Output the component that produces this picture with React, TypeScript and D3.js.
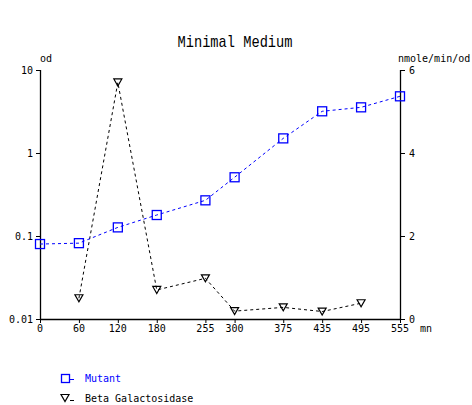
import React from "react";
import * as d3 from "d3";

const times = [0, 60, 120, 180, 255, 300, 375, 435, 495, 555];
const mutant = [0.08, 0.082, 0.127, 0.179, 0.269, 0.51, 1.5, 3.18, 3.55, 4.82];
const betaTimes = [60, 120, 180, 255, 300, 375, 435, 495];
const beta = [0.5, 5.7, 0.7, 0.98, 0.19, 0.28, 0.18, 0.38];
const xTicks = [0, 60, 120, 180, 255, 300, 375, 435, 495, 555];
const leftTicks = [0.01, 0.1, 1, 10];
const leftTickLabels = ["0.01", "0.1", "1", "10"];
const rightTicks = [0, 2, 4, 6];

const FONT = "'DejaVu Sans Mono', monospace";

export default function App() {
  const x = d3.scaleLinear().domain([0, 555]).range([40, 400]);
  const yL = d3.scaleLog().domain([0.01, 10]).range([319, 70]);
  const yR = d3.scaleLinear().domain([0, 6]).range([319, 70]);

  const mutLine = d3
    .line<number>()
    .x((_, i) => x(times[i]))
    .y((d) => yL(d))(mutant) as string;
  const betaLine = d3
    .line<number>()
    .x((_, i) => x(betaTimes[i]))
    .y((d) => yR(d))(beta) as string;

  const tri = (cx: number, cy: number) =>
    `M${cx - 4},${cy - 3.5}L${cx + 4},${cy - 3.5}L${cx},${cy + 3.5}Z`;

  return (
    <svg width={472} height={405} style={{ position: "absolute", left: 0, top: 0 }}>
      <rect width={472} height={405} fill="#fff" />
      <text
        x={235}
        y={47}
        textAnchor="middle"
        fontFamily="'Liberation Mono', monospace"
        fontSize={17}
        textLength={115}
        lengthAdjust="spacingAndGlyphs"
        fill="#000"
      >
        Minimal Medium
      </text>
      {/* axes */}
      <line x1={40.5} y1={70} x2={40.5} y2={319} stroke="#000" strokeWidth={1.3} />
      <line x1={400.5} y1={70} x2={400.5} y2={319} stroke="#000" strokeWidth={1.3} />
      <line x1={40} y1={319.5} x2={401} y2={319.5} stroke="#000" strokeWidth={1.3} />
      {leftTicks.map((t, i) => (
        <g key={"l" + i}>
          <line x1={36} x2={40} y1={yL(t) + 0.5} y2={yL(t) + 0.5} stroke="#000" />
          <text x={33} y={yL(t) + 3.5} textAnchor="end" fontFamily={FONT} fontSize={10} fill="#000">
            {leftTickLabels[i]}
          </text>
        </g>
      ))}
      {rightTicks.map((t, i) => (
        <g key={"r" + i}>
          <line x1={401} x2={405} y1={yR(t) + 0.5} y2={yR(t) + 0.5} stroke="#000" />
          <text x={409} y={yR(t) + 3.5} fontFamily={FONT} fontSize={10} fill="#000">
            {t}
          </text>
        </g>
      ))}
      {xTicks.map((t, i) => (
        <g key={"x" + i}>
          <line x1={x(t) + 0.5} x2={x(t) + 0.5} y1={319} y2={323} stroke="#000" />
          <text x={x(t)} y={332} textAnchor="middle" fontFamily={FONT} fontSize={10} fill="#000">
            {t}
          </text>
        </g>
      ))}
      <text x={420} y={332} fontFamily={FONT} fontSize={10} fill="#000">mn</text>
      <text x={40} y={62} fontFamily={FONT} fontSize={10} fill="#000">od</text>
      <text x={398} y={62} fontFamily={FONT} fontSize={10} fill="#000">nmole/min/od</text>

      {/* lines */}
      <path d={betaLine} fill="none" stroke="#000" strokeWidth={1} strokeDasharray="3,3" />
      <path d={mutLine} fill="none" stroke="#0000ff" strokeWidth={1} strokeDasharray="3,3" />
      {mutant.map((v, i) => (
        <rect
          key={"m" + i}
          x={x(times[i]) - 4.5}
          y={yL(v) - 4.5}
          width={9}
          height={9}
          fill="none"
          stroke="#0000ff"
          strokeWidth={1.3}
        />
      ))}
      {beta.map((v, i) => (
        <path key={"b" + i} d={tri(x(betaTimes[i]), yR(v))} fill="none" stroke="#000" strokeWidth={1.2} />
      ))}

      {/* legend */}
      <rect x={61.5} y={374.5} width={8} height={8} fill="none" stroke="#0000ff" strokeWidth={1.3} />
      <line x1={70} x2={74} y1={379.5} y2={379.5} stroke="#0000ff" />
      <text x={85} y={382} fontFamily={FONT} fontSize={10} fill="#0000ff">Mutant</text>
      <path d={tri(65, 398)} fill="none" stroke="#000" strokeWidth={1.2} />
      <line x1={70} x2={74} y1={400.5} y2={400.5} stroke="#000" />
      <text x={85} y={402} fontFamily={FONT} fontSize={10} fill="#000">Beta Galactosidase</text>
    </svg>
  );
}
